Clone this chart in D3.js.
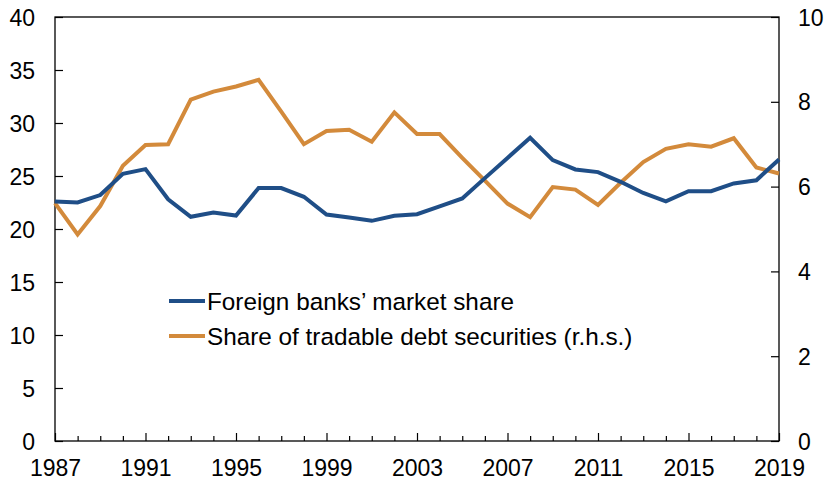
<!DOCTYPE html>
<html><head><meta charset="utf-8">
<script src="https://cdn.jsdelivr.net/npm/d3@7/dist/d3.min.js"></script>
<style>body{margin:0;background:#fff}svg{display:block;font-family:"Liberation Sans",Arial,sans-serif}</style>
</head><body><svg id="c" width="827" height="481"></svg>
<script>
const years = d3.range(1987, 2020);
const foreignShare = [22.6,22.5,23.2,25.2,25.65,22.8,21.15,21.55,21.27,23.86,23.86,23.04,21.37,21.08,20.77,21.24,21.4,22.13,22.88,24.8,26.7,28.6,26.5,25.62,25.37,24.45,23.4,22.6,23.57,23.57,24.3,24.6,26.56];
const tradableDebt = [5.61,4.87,5.54,6.49,6.98,7.0,8.05,8.24,8.36,8.52,7.77,7.0,7.31,7.34,7.06,7.75,7.24,7.24,6.68,6.14,5.6,5.28,5.99,5.93,5.57,6.09,6.58,6.89,7.0,6.94,7.14,6.45,6.31];
const xTickLabels = [1987,1991,1995,1999,2003,2007,2011,2015,2019];
const leftTicks = [0,5,10,15,20,25,30,35,40];
const rightTicks = [0,2,4,6,8,10];
const seriesNames = ["Foreign banks\u2019 market share","Share of tradable debt securities (r.h.s.)"];
const colors = ["#1F4E87","#D38A3B"];

const svg = d3.select("#c");
const L=55, R=779, T=17, B=441;
const x = d3.scaleLinear().domain([1987,2019]).range([L,R]);
const yL = d3.scaleLinear().domain([0,40]).range([B,T]);
const yR = d3.scaleLinear().domain([0,10]).range([B,T]);

// frame
svg.append("rect").attr("x",L).attr("y",T).attr("width",R-L).attr("height",B-T)
  .attr("fill","none").attr("stroke","#000").attr("stroke-width",1.3);

const fs = 23;
// x axis ticks
const gx = svg.append("g").attr("transform",`translate(0,${B})`);
gx.call(d3.axisBottom(x).tickValues(years).tickSize(0).tickFormat(""));
gx.select(".domain").remove();
gx.selectAll(".tick").append("line").attr("y1",0)
  .attr("y2",d=>xTickLabels.includes(d)?-8:-5).attr("stroke","#000").attr("stroke-width",1.2);
gx.selectAll(".tick").filter(d=>xTickLabels.includes(d)).append("text")
  .attr("y",35).attr("text-anchor","middle").attr("fill","#000").attr("font-size",fs).text(d=>d);

// left axis
const gl = svg.append("g").attr("transform",`translate(${L},0)`);
gl.call(d3.axisLeft(yL).tickValues(leftTicks).tickSize(0).tickFormat(""));
gl.select(".domain").remove();
gl.selectAll(".tick").append("line").attr("x1",0).attr("x2",8).attr("stroke","#000").attr("stroke-width",1.2);
gl.selectAll(".tick").append("text").attr("x",-20).attr("dy","0.35em").attr("text-anchor","end")
  .attr("fill","#000").attr("font-size",fs).text(d=>d);

// right axis
const gr = svg.append("g").attr("transform",`translate(${R},0)`);
gr.call(d3.axisRight(yR).tickValues(rightTicks).tickSize(0).tickFormat(""));
gr.select(".domain").remove();
gr.selectAll(".tick").append("line").attr("x1",0).attr("x2",-8).attr("stroke","#000").attr("stroke-width",1.2);
gr.selectAll(".tick").append("text").attr("x",19).attr("dy","0.35em").attr("text-anchor","start")
  .attr("fill","#000").attr("font-size",fs).text(d=>d);

// lines
const lineL = d3.line().x((d,i)=>x(years[i])).y(d=>yL(d));
const lineR = d3.line().x((d,i)=>x(years[i])).y(d=>yR(d));
svg.append("path").datum(tradableDebt).attr("d",lineR).attr("fill","none")
  .attr("stroke",colors[1]).attr("stroke-width",4).attr("stroke-linejoin","miter");
svg.append("path").datum(foreignShare).attr("d",lineL).attr("fill","none")
  .attr("stroke",colors[0]).attr("stroke-width",4).attr("stroke-linejoin","miter");

// legend
const lg = svg.append("g");
seriesNames.forEach((n,i)=>{
  const yy = 301 + i*35;
  lg.append("line").attr("x1",169).attr("x2",205).attr("y1",yy).attr("y2",yy)
    .attr("stroke",colors[i]).attr("stroke-width",4);
  lg.append("text").attr("x",207).attr("y",yy).attr("dy","0.35em").attr("font-size",24.3)
    .attr("fill","#000").text(n);
});
</script></body></html>
